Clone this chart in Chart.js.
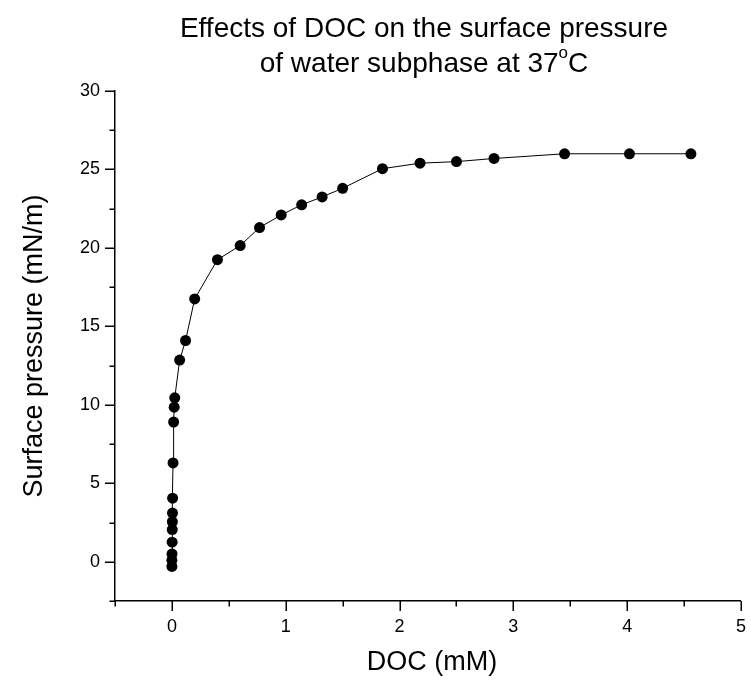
<!DOCTYPE html>
<html><head><meta charset="utf-8">
<script src="https://cdn.jsdelivr.net/npm/chart.js@4.4.0/dist/chart.umd.min.js"></script>
<style>html,body{margin:0;padding:0;background:#fff;}#wrap{width:751px;height:682px;position:relative;}</style>
</head><body><div id="wrap"><canvas id="c" width="751" height="682"></canvas></div>
<script>
// DOC concentration (mM)
const docConc = [0, 0, 0.001, 0.002, 0.003, 0.004, 0.005, 0.006, 0.01, 0.015, 0.02, 0.025,
  0.068, 0.12, 0.2, 0.4, 0.6, 0.77, 0.96, 1.14, 1.32, 1.5, 1.85, 2.18, 2.5, 2.83, 3.45, 4.02, 4.56];
// Surface pressure (mN/m)
const surfacePressure = [-0.3, 0.1, 0.5, 1.25, 2.05, 2.55, 3.1, 4.05, 6.3, 8.9, 9.85, 10.45,
  12.85, 14.1, 16.75, 19.25, 20.15, 21.3, 22.1, 22.75, 23.25, 23.8, 25.05, 25.4, 25.5, 25.7, 26.0, 26.0, 26.0];
const xTickLabels = ['0', '1', '2', '3', '4', '5'];
const yTickLabels = ['0', '5', '10', '15', '20', '25', '30'];
const titleLine1 = 'Effects of DOC on the surface pressure';
const titleLine2 = 'of water subphase at 37';
const titleSup = 'o';
const titleEnd = 'C';
const xTitle = 'DOC (mM)';
const yTitle = 'Surface pressure (mN/m)';

const FONT = '"Liberation Sans", Arial, Helvetica, sans-serif';

const decorPlugin = {
  id: 'decor',
  afterDraw(chart) {
    const ctx = chart.ctx;
    const { left, bottom } = chart.chartArea;
    const xs = chart.scales.x, ys = chart.scales.y;
    ctx.save();
    ctx.strokeStyle = '#000';
    ctx.lineWidth = 1.5;
    ys.ticks.forEach(t => {
      const py = Math.round(ys.getPixelForValue(t.value)) + 0.25;
      const major = Math.abs(t.value / 5 - Math.round(t.value / 5)) < 1e-6;
      const len = major ? 10 : 5.5;
      ctx.beginPath(); ctx.moveTo(left, py); ctx.lineTo(left - len, py); ctx.stroke();
    });
    xs.ticks.forEach(t => {
      const px = Math.round(xs.getPixelForValue(t.value)) + 0.25;
      const major = Math.abs(t.value - Math.round(t.value)) < 1e-6;
      const len = major ? 10 : 5.5;
      ctx.beginPath(); ctx.moveTo(px, bottom); ctx.lineTo(px, bottom + len); ctx.stroke();
    });
    ctx.fillStyle = '#000';
    // title
    ctx.textBaseline = 'alphabetic';
    ctx.font = '28px ' + FONT;
    ctx.textAlign = 'center';
    ctx.fillText(titleLine1, 424, 37);
    const w1 = ctx.measureText(titleLine2).width;
    const wc = ctx.measureText(titleEnd).width;
    ctx.font = '17px ' + FONT;
    const ws = ctx.measureText(titleSup).width;
    const total = w1 + ws + wc;
    let x0 = 424 - total / 2;
    ctx.textAlign = 'left';
    ctx.font = '28px ' + FONT;
    ctx.fillText(titleLine2, x0, 72);
    ctx.font = '17px ' + FONT;
    ctx.fillText(titleSup, x0 + w1, 58);
    ctx.font = '28px ' + FONT;
    ctx.fillText(titleEnd, x0 + w1 + ws, 72);
    // axis titles
    ctx.font = '27px ' + FONT;
    ctx.textAlign = 'center';
    ctx.textBaseline = 'middle';
    ctx.fillText(xTitle, 432, 663);
    ctx.translate(35, 346);
    ctx.rotate(-Math.PI / 2);
    ctx.fillText(yTitle, 0, 0);
    ctx.restore();
  }
};

const points = docConc.map((x, i) => ({ x: x, y: surfacePressure[i] }));

new Chart(document.getElementById('c'), {
  type: 'scatter',
  data: {
    datasets: [{
      data: points,
      showLine: true,
      borderColor: '#000',
      borderWidth: 1,
      backgroundColor: '#000',
      pointRadius: 5.5,
      pointHoverRadius: 5.5,
      pointBorderWidth: 0,
      pointBackgroundColor: '#000',
      tension: 0
    }]
  },
  options: {
    responsive: false,
    animation: false,
    devicePixelRatio: 1,
    layout: { padding: { top: 91, right: 8, left: 0, bottom: 0 } },
    plugins: { legend: { display: false }, tooltip: { enabled: false }, title: { display: false } },
    scales: {
      x: {
        type: 'linear',
        min: -0.5, max: 5,
        afterFit(s) { s.height = 81; },
        ticks: {
          stepSize: 0.5,
          autoSkip: false,
          maxRotation: 0,
          padding: 5,
          color: '#000',
          font: { family: FONT, size: 18 },
          callback: v => { const s = String(Math.round(v * 10) / 10); return xTickLabels.includes(s) ? s : ''; }
        },
        grid: { display: true, drawOnChartArea: false, drawTicks: true, tickLength: 10, color: 'rgba(0,0,0,0)' },
        border: { display: true, color: '#000', width: 1.5 }
      },
      y: {
        type: 'linear',
        min: -2.5, max: 30,
        afterFit(s) { s.width = 115; },
        ticks: {
          stepSize: 2.5,
          autoSkip: false,
          padding: 5,
          color: '#000',
          font: { family: FONT, size: 18 },
          callback: v => { const s = String(Math.round(v * 10) / 10); return yTickLabels.includes(s) ? s : ''; }
        },
        grid: { display: true, drawOnChartArea: false, drawTicks: true, tickLength: 10, color: 'rgba(0,0,0,0)' },
        border: { display: true, color: '#000', width: 1.5 }
      }
    }
  },
  plugins: [decorPlugin]
});
</script>
</body></html>
